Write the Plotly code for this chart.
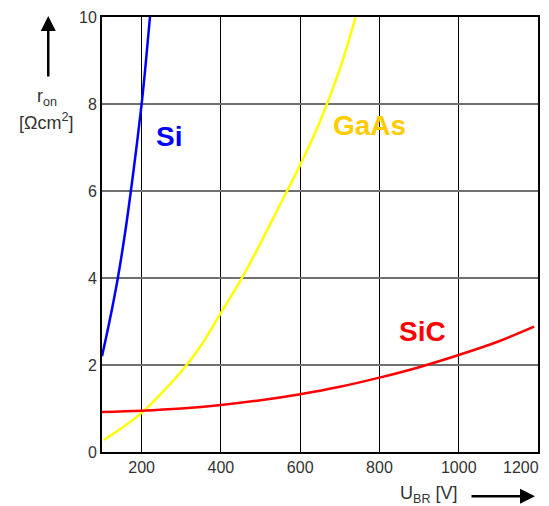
import plotly.graph_objects as go

# Data
si_x = [100, 120, 140, 160, 180, 200, 210, 221]
si_y = [2.2, 3.05, 4.0, 5.15, 6.5, 8.0, 8.9, 10.0]

gaas_x = [105, 150, 200, 250, 300, 350, 400, 450, 500, 550, 600, 650, 700, 740]
gaas_y = [0.28, 0.55, 0.9, 1.35, 1.85, 2.45, 3.2, 3.95, 4.8, 5.7, 6.6, 7.6, 8.8, 10.0]

sic_x = [100, 200, 300, 400, 500, 600, 700, 800, 900, 1000, 1100, 1190]
sic_y = [0.92, 0.95, 1.0, 1.08, 1.19, 1.33, 1.5, 1.71, 1.95, 2.23, 2.54, 2.88]

x_ticks = [200, 400, 600, 800, 1000]
y_ticks = [0, 2, 4, 6, 8, 10]

FONT = "Liberation Sans, Arial, sans-serif"
TXT = "#333333"

fig = go.Figure()
fig.add_trace(go.Scatter(x=si_x, y=si_y, mode="lines",
                         line=dict(color="#0000FF", width=2.5, shape="spline"), showlegend=False))
fig.add_trace(go.Scatter(x=gaas_x, y=gaas_y, mode="lines",
                         line=dict(color="#FFFF00", width=2.5, shape="spline"), showlegend=False))
fig.add_trace(go.Scatter(x=sic_x, y=sic_y, mode="lines",
                         line=dict(color="#FF0000", width=2.5, shape="spline"), showlegend=False))

L, R, T, B = 102, 9, 9, 54
W, H = 549, 506
pw, ph = W - L - R, H - T - B


def px(xp):
    return (xp - L) / pw


def py(yp):
    return (H - B - yp) / ph


def label(text, x, y, color, size=28):
    return dict(text=text, x=x, y=y, xref="x", yref="y", showarrow=False,
                xanchor="center", yanchor="middle",
                font=dict(family=FONT, size=size, color=color))


def ptext(text, xp, yp, size=18):
    return dict(text=text, x=px(xp), y=py(yp), xref="paper", yref="paper", showarrow=False,
                xanchor="center", yanchor="middle", font=dict(family=FONT, size=size, color=TXT))


annotations = [
    label("<b>Si</b>", 270, 7.25, "#0000FF"),
    label("<b>GaAs</b>", 776, 7.5, "#FFCC00"),
    label("<b>SiC</b>", 909, 2.76, "#FF0000"),
    dict(text="1200", x=1200, y=0, xref="x", yref="paper", xanchor="right", yanchor="top",
         xshift=3, yshift=-5, showarrow=False, font=dict(family=FONT, size=16, color=TXT)),
    ptext("r<sub>on</sub>", 47, 91),
    ptext("[Ωcm<sup>2</sup>]", 46, 115),
    ptext("U<sub>BR</sub> [V]", 430, 495),
    dict(text="", x=px(48), y=py(8), xref="paper", yref="paper", showarrow=True,
         ax=0, ay=62, arrowhead=2, arrowsize=1.2, arrowwidth=2.5, arrowcolor="#000000"),
    dict(text="", x=px(537), y=py(497), xref="paper", yref="paper", showarrow=True,
         ax=-65, ay=0, arrowhead=2, arrowsize=1.2, arrowwidth=2.5, arrowcolor="#000000"),
]

fig.update_layout(
    width=W, height=H,
    margin=dict(l=L, r=R, t=T, b=B),
    paper_bgcolor="white", plot_bgcolor="white",
    font=dict(family=FONT, size=16, color=TXT),
    annotations=annotations,
    xaxis=dict(range=[100, 1200], tickvals=x_ticks, ticks="", showgrid=True,
               gridcolor="#000000", gridwidth=1, showline=True, linecolor="#000000",
               linewidth=2, mirror=True, zeroline=False, tickfont=dict(size=16)),
    yaxis=dict(range=[0, 10], tickvals=y_ticks, ticks="", showgrid=True,
               gridcolor="#707070", gridwidth=1.5, showline=True, linecolor="#000000",
               linewidth=2, mirror=True, zeroline=False, tickfont=dict(size=16)),
)

fig.write_html("out.html", config={"displayModeBar": False},
               post_script="document.body.style.margin='0';")
